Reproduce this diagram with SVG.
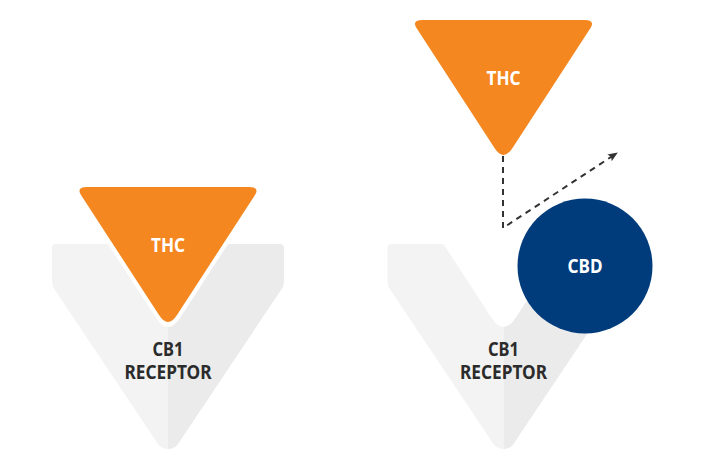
<svg xmlns="http://www.w3.org/2000/svg" width="704" height="469" viewBox="0 0 704 469">
<style>
.l{fill:#f3f3f3}.r{fill:#ebebeb}.o{fill:#f58720}
text{font-family:"Noto Sans","Open Sans","Liberation Sans",sans-serif;font-weight:700;font-size:19px;text-anchor:middle}
.w{fill:#fff}.d{fill:#2b2b2b}
.c{fill:none;stroke:#333;stroke-width:2;stroke-dasharray:6 5}
</style>
<defs>
<marker id="a" markerWidth="12" markerHeight="10" refX="9" refY="4" orient="auto" markerUnits="userSpaceOnUse"><path d="M0 0L10 4L0 8L2 4Z" fill="#333"/></marker>
<g id="rc">
<path class="l" d="M56 244H108L156 318Q162 327 168 327V449Q160 449 156 441L55 290Q52 286 52 280V248Q52 244 56 244Z"/>
<path class="r" d="M280 244H228L180 318Q174 327 168 327V449Q176 449 180 441L281 290Q284 286 284 280V248Q284 244 280 244Z"/>
</g>
<path id="tr" class="o" d="M87 187H249Q260 187 255 195L177 315Q168 329 159 315L81 195Q76 187 87 187Z"/>
</defs>
<g id="receptor-1"><use href="#rc"/><text class="d" x="168" y="356" textLength="31" lengthAdjust="spacingAndGlyphs">CB1</text><text class="d" x="168" y="379" textLength="87" lengthAdjust="spacingAndGlyphs">RECEPTOR</text></g>
<g id="thc-1"><use href="#tr"/><text class="w" x="168" y="251.5" textLength="34" lengthAdjust="spacingAndGlyphs">THC</text></g>
<g id="receptor-2"><use href="#rc" x="335.5"/><text class="d" x="503.5" y="356" textLength="31" lengthAdjust="spacingAndGlyphs">CB1</text><text class="d" x="503.5" y="379" textLength="87" lengthAdjust="spacingAndGlyphs">RECEPTOR</text></g>
<g id="connectors"><path class="c" d="M503 156V228L617 153" marker-end="url(#a)"/></g>
<g id="thc-2"><use href="#tr" x="335.5" y="-167"/><text class="w" x="503.5" y="85" textLength="34" lengthAdjust="spacingAndGlyphs">THC</text></g>
<g id="cbd"><circle cx="585" cy="266" r="67.5" fill="#003b7c"/><text class="w" x="585" y="272.5" textLength="35" lengthAdjust="spacingAndGlyphs">CBD</text></g>
</svg>
